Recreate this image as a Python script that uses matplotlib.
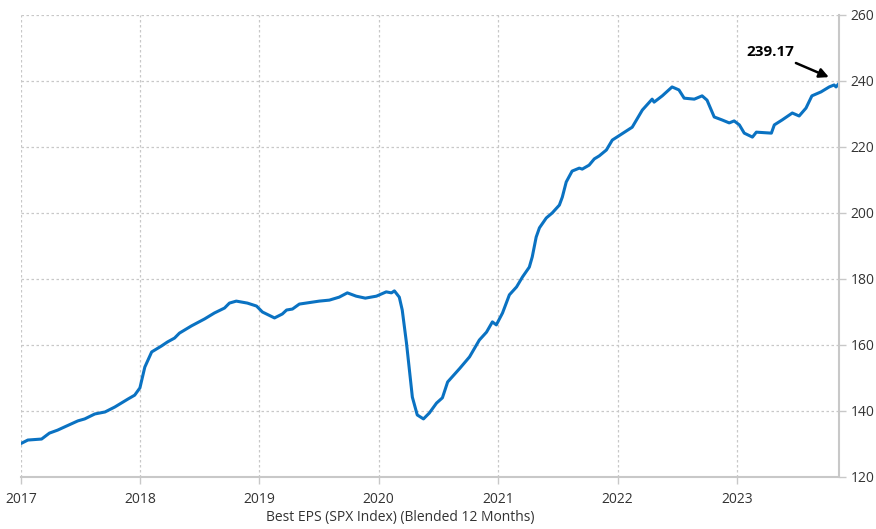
import matplotlib
matplotlib.use('Agg')
import matplotlib.pyplot as plt
import matplotlib.dates as mdates
import numpy as np
import pandas as pd

dates = ['2017-01-04', '2017-01-22', '2017-03-05', '2017-03-29', '2017-04-23', '2017-05-15',
	'2017-06-24', '2017-07-15', '2017-08-15', '2017-09-15', '2017-10-15', '2017-11-24',
	'2017-12-15', '2017-12-31', '2018-01-15', '2018-02-05', '2018-03-07', '2018-03-25',
	'2018-04-16', '2018-05-01', '2018-06-07', '2018-07-17', '2018-08-16', '2018-09-16',
	'2018-10-01', '2018-10-22', '2018-11-25', '2018-12-23', '2019-01-10', '2019-02-16',
	'2019-03-12', '2019-03-25', '2019-04-12', '2019-05-03', '2019-07-03', '2019-08-03',
	'2019-09-02', '2019-09-27', '2019-10-24', '2019-11-21', '2019-12-25', '2020-01-24',
	'2020-02-09', '2020-02-18', '2020-03-04', '2020-03-13', '2020-03-26', '2020-04-04',
	'2020-04-13', '2020-04-28', '2020-05-17', '2020-06-04', '2020-06-26', '2020-07-14',
	'2020-07-30', '2020-09-05', '2020-10-05', '2020-11-04', '2020-11-26', '2020-12-14',
	'2020-12-26', '2021-01-14', '2021-02-04', '2021-02-26', '2021-03-16', '2021-04-06',
	'2021-04-15', '2021-04-27', '2021-05-07', '2021-05-28', '2021-06-15', '2021-07-07',
	'2021-07-16', '2021-07-28', '2021-08-15', '2021-09-06', '2021-09-15', '2021-10-06',
	'2021-10-22', '2021-11-06', '2021-11-28', '2021-12-16', '2022-02-15', '2022-03-18',
	'2022-04-17', '2022-04-23', '2022-05-18', '2022-06-17', '2022-07-08', '2022-07-24',
	'2022-08-24', '2022-09-17', '2022-10-02', '2022-10-24', '2022-11-17', '2022-12-09',
	'2022-12-24', '2023-01-09', '2023-01-24', '2023-02-18', '2023-03-02', '2023-04-17',
	'2023-04-26', '2023-05-20', '2023-06-20', '2023-07-11', '2023-08-01', '2023-08-19',
	'2023-09-16', '2023-10-11', '2023-10-26', '2023-11-01', '2023-11-09']
eps = [130.3, 131.2, 131.5, 133.3, 134.2, 135.2,
	137.0, 137.6, 139.1, 139.7, 141.2, 143.6,
	144.8, 147.0, 153.3, 157.9, 159.7, 160.9,
	162.1, 163.6, 165.8, 167.9, 169.7, 171.2,
	172.7, 173.3, 172.7, 171.8, 170.0, 168.2,
	169.4, 170.6, 170.9, 172.4, 173.3, 173.6,
	174.5, 175.8, 174.8, 174.2, 174.8, 176.1,
	175.8, 176.4, 174.5, 170.6, 160.6, 152.4,
	144.2, 138.8, 137.6, 139.4, 142.4, 144.0,
	148.8, 152.9, 156.4, 161.5, 163.9, 167.0,
	166.1, 169.7, 175.2, 177.6, 180.6, 183.6,
	186.7, 192.7, 195.5, 198.5, 200.0, 202.4,
	204.8, 209.4, 212.7, 213.6, 213.3, 214.5,
	216.4, 217.3, 219.1, 222.1, 226.0, 231.2,
	234.5, 233.6, 235.5, 238.2, 237.3, 234.8,
	234.5, 235.5, 234.2, 229.1, 228.2, 227.3,
	227.9, 226.7, 224.2, 223.0, 224.5, 224.2,
	226.7, 228.2, 230.3, 229.4, 231.8, 235.5,
	236.7, 238.2, 238.8, 238.2, 239.17]
y_ticks = [120, 140, 160, 180, 200, 220, 240, 260]
last_label = '239.17'
series_name = 'Best EPS (SPX Index) (Blended 12 Months)'

plt.rcParams['font.family'] = ['Open Sans', 'DejaVu Sans']

x = pd.to_datetime(dates)

fig = plt.figure(figsize=(8.76, 5.29), dpi=100)
ax = fig.add_axes([21/876, 1-477/529, (839-21)/876, (477-15)/529])

ax.plot(x, eps, color='#0a72c2', lw=2.2, solid_joinstyle='round')

ax.set_xlim(pd.Timestamp('2017-01-01'), pd.Timestamp('2023-11-10'))
ax.set_ylim(120, 260)
ax.set_yticks(y_ticks)
ax.xaxis.set_major_locator(mdates.YearLocator())
ax.xaxis.set_major_formatter(mdates.DateFormatter('%Y'))

ax.yaxis.tick_right()
for s in ['top', 'left']:
	ax.spines[s].set_visible(False)
for s in ['right', 'bottom']:
	ax.spines[s].set_color('#c8c8c8')
	ax.spines[s].set_linewidth(1.5)
ax.tick_params(axis='both', colors='#c8c8c8', labelcolor='#333333', labelsize=10, length=5, width=1)
ax.tick_params(axis='x', pad=6)
ax.grid(True, color='#c8c8c8', linestyle=(0, (2, 2)), lw=0.9)
ax.set_axisbelow(True)

# arrow tip sits just above the last point
ax.annotate(last_label, xy=(x[-1] - pd.Timedelta(days=30), eps[-1] + 2.0),
	xytext=(-42, 18), textcoords='offset points',
	fontsize=11, fontweight='bold', color='black', ha='center', va='center',
	arrowprops=dict(arrowstyle='-|>', color='black', lw=1.8, mutation_scale=14,
		shrinkA=2, shrinkB=0))

fig.text(400/876, 1-518/529, series_name, ha='center', va='center', fontsize=10, color='#333333')

fig.savefig('out.png', dpi=100)
